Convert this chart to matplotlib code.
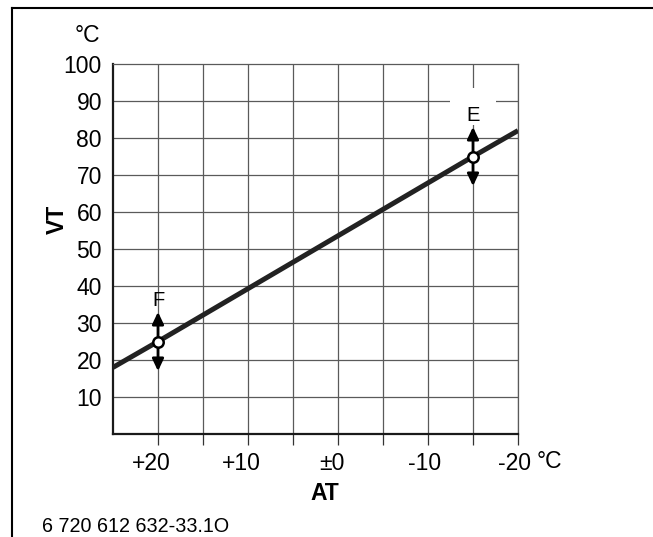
import matplotlib
matplotlib.use("Agg")
import matplotlib.pyplot as plt
from matplotlib.lines import Line2D
from matplotlib.patches import Rectangle
from matplotlib.transforms import offset_copy

plt.rcParams['font.family'] = ['Liberation Sans', 'DejaVu Sans']

# Data
curve_at = [25, 20, -15, -20]
curve_vt = [18, 25, 75, 82]
point_labels = ['F', 'E']
point_at = [20, -15]
point_vt = [25, 75]
arrow_span = 8
x_tick_vals = [20, 10, 0, -10, -20]
x_tick_labels = ['+20', '+10', '\u00b10', '-10', '-20']
x_minor = [15, 5, -5, -15]
y_tick_vals = [10, 20, 30, 40, 50, 60, 70, 80, 90, 100]

W, H = 653, 537
fig = plt.figure(figsize=(W / 100, H / 100), dpi=100)
fig.patch.set_facecolor('white')

l, r, t, b = 113, 518, 64, 434
ax = fig.add_axes([l / W, 1 - b / H, (r - l) / W, (b - t) / H])
ax.set_xlim(25, -20)
ax.set_ylim(0, 100)

FS = 16.5
grid_c = '#5a5a5a'
for v in x_tick_vals + x_minor:
    ax.axvline(v, color=grid_c, lw=0.9, zorder=1)
for v in y_tick_vals[:-1]:
    ax.axhline(v, color=grid_c, lw=0.9, zorder=1)

for s in ['top', 'right']:
    ax.spines[s].set_color(grid_c)
    ax.spines[s].set_linewidth(0.9)
for s in ['left', 'bottom']:
    ax.spines[s].set_color('#1a1a1a')
    ax.spines[s].set_linewidth(1.6)

# x ticks (marks only), labels placed so digits centre on the tick
ax.set_xticks(x_tick_vals)
ax.set_xticklabels([])
ax.set_xticks(x_minor, minor=True)
ax.tick_params(axis='x', which='both', direction='out', length=8, width=0.9,
               color='#333333')
digit_w = 0.556 * FS  # points
for v, lab in zip(x_tick_vals, x_tick_labels):
    ndig = sum(c.isdigit() for c in lab)
    tr = offset_copy(ax.get_xaxis_transform(), fig=fig, x=ndig * digit_w / 2, y=-26,
                     units='points')
    ax.text(v, 0, lab, transform=tr, ha='right', va='baseline', fontsize=FS)

ax.set_yticks(y_tick_vals)
ax.tick_params(axis='y', length=0, labelsize=FS, pad=8)

ax.plot(curve_at, curve_vt, color='#222222', lw=3.6, solid_capstyle='butt', zorder=3)

# white gap behind label E (interrupts the 90 grid line)
ax.add_patch(Rectangle((point_at[1] + 2.55, point_vt[1] + 8.5), -5.1, 10,
                       facecolor='white', edgecolor='none', zorder=2))

for lab, xa, yv in zip(point_labels, point_at, point_vt):
    ax.annotate('', xy=(xa, yv + arrow_span), xytext=(xa, yv - arrow_span),
                arrowprops=dict(arrowstyle='<|-|>,head_length=0.72,head_width=0.34',
                                mutation_scale=10, color='black', lw=2.0,
                                shrinkA=0, shrinkB=0), zorder=4)
    ax.plot([xa], [yv], marker='o', ms=7.5, mfc='white', mec='black', mew=1.8, zorder=5)
    ax.text(xa, yv + arrow_span + 3.2, lab, ha='center', va='center', fontsize=14.5,
            zorder=4)

fig.text(325 / W, 1 - 493 / H, 'AT', fontsize=FS, fontweight='bold', ha='center', va='center')
fig.text(57 / W, 1 - 219 / H, 'VT', fontsize=FS, fontweight='bold', ha='center', va='center',
         rotation=90)

fig.text(87 / W, 1 - 35 / H, '\u00b0C', fontsize=FS, ha='center', va='center')
fig.text(549 / W, 1 - 462 / H, '\u00b0C', fontsize=FS, ha='center', va='center')
fig.text(42 / W, 1 - 527 / H, '6 720 612 632-33.1O', fontsize=14.2, ha='left', va='center')

fig.add_artist(Line2D([12 / W, 1], [1 - 8 / H, 1 - 8 / H], color='black', lw=1.5))
fig.add_artist(Line2D([12 / W, 12 / W], [0, 1 - 8 / H], color='black', lw=1.5))

fig.savefig('out.png', dpi=100, facecolor='white')
